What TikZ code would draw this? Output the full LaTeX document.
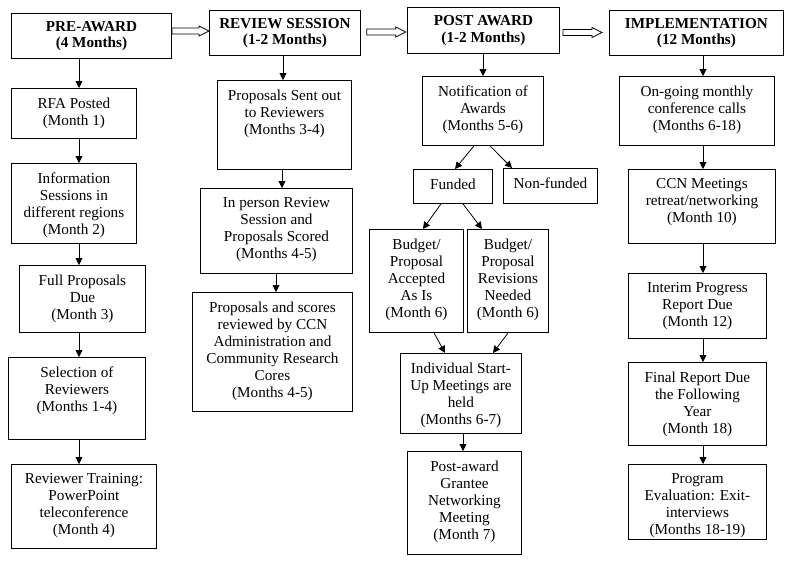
\documentclass[tikz,border=0pt]{standalone}
\usepackage{fontspec}
\setmainfont{Liberation Serif}
\usetikzlibrary{arrows.meta,calc}
\tikzset{
  box/.style={draw, line width=0.9pt, inner sep=0pt, anchor=north west},
  hdr/.style={draw, line width=0.9pt, inner sep=0pt, anchor=north west, align=center,
    font=\bfseries\fontsize{15.2}{16.7}\selectfont},
  txt/.style={font=\fontsize{15.2}{17}\selectfont, align=center, inner sep=0pt, anchor=north},
  arr/.style={-{Triangle[length=7pt,width=7pt]}, line width=0.8pt},
  hollow/.style={line width=0.8pt, line join=miter}
}
\newcommand\bx[6]{%
  \node[box, minimum width=#4pt, minimum height=#5pt] (#1) at (#2,#3) {};
  \node[txt] (#1t) at ([yshift=-9.3pt]#1.north) {#6};}
\newcommand\harrow[2]{%
  \draw[hollow] ($(#1)+(0,-3)$) -- ($(#2)+(-10,-3)$) -- ($(#2)+(-10,-5)$) -- (#2)
    -- ($(#2)+(-10,5)$) -- ($(#2)+(-10,3)$) -- ($(#1)+(0,3)$) -- cycle;}
\begin{document}
\begin{tikzpicture}[x=1pt,y=-1pt]
\useasboundingbox (0,0) rectangle (800,563);
% headers
\node[hdr, minimum width=160pt, minimum height=45pt] (pre) at (11,13) {PRE-AWARD\\(4 Months)};
\node[hdr, minimum width=151pt, minimum height=45pt] (rev) at (209,10) {REVIEW SESSION\\(1-2 Months)};
\node[hdr, minimum width=152pt, minimum height=46pt] (post) at (407,7) {POST AWARD\\(1-2 Months)};
\node[hdr, minimum width=174pt, minimum height=45pt] (impl) at (609,10) {IMPLEMENTATION\\(12 Months)};
% column 1
\bx{rfa}{11}{88}{125}{50}{RFA Posted\\(Month 1)}
\bx{info}{11}{163}{125}{80}{Information\\Sessions in\\different regions\\(Month 2)}
\bx{full}{19}{265}{126}{67}{Full Proposals\\Due\\(Month 3)}
\bx{sel}{8}{357}{137}{82}{Selection of\\Reviewers\\(Months 1-4)}
\bx{train}{11}{464}{145}{84}{Reviewer Training:\\PowerPoint\\teleconference\\(Month 4)}
% column 2
\bx{sent}{217}{80}{134}{89}{Proposals Sent out\\to Reviewers\\(Months 3-4)}
\bx{inper}{200}{188}{152}{85}{In person Review\\Session and\\Proposals Scored\\(Months 4-5)}
\bx{scores}{192}{292}{160}{119}{Proposals and scores\\reviewed by CCN\\Administration and\\Community Research\\Cores\\(Months 4-5)}
% column 3
\bx{notif}{422}{76}{121}{69}{Notification of\\Awards\\(Months 5-6)}
\bx{funded}{413}{169}{79}{34}{Funded}
\bx{nonf}{503}{168}{94}{35}{Non-funded}
\bx{acc}{369}{229}{94}{103}{Budget/\\Proposal\\Accepted\\As Is\\(Month 6)}
\bx{revn}{467}{229}{81}{103}{Budget/\\Proposal\\Revisions\\Needed\\(Month 6)}
\bx{indiv}{400}{353}{121}{80}{Individual Start-\\Up Meetings are\\held\\(Months 6-7)}
\bx{grant}{407}{451}{114}{103}{Post-award\\Grantee\\Networking\\Meeting\\(Month 7)}
% column 4
\bx{ongo}{619}{76}{155}{69}{On-going monthly\\conference calls\\(Months 6-18)}
\bx{ccn}{628}{169}{147}{74}{CCN Meetings\\retreat/networking\\(Month 10)}
\bx{interim}{628}{273}{138}{65}{Interim Progress\\Report Due\\(Month 12)}
\bx{final}{628}{362}{138}{83}{Final Report Due\\the Following\\Year\\(Month 18)}
\bx{prog}{628}{464}{138}{75}{Program\\Evaluation: Exit-\\interviews\\(Months 18-19)}
% hollow arrows
\coordinate (h1s) at (pre.east |- 0,31);
\coordinate (h1e) at (rev.west |- 0,31);
\coordinate (h2s) at (366.7,32);
\coordinate (h2e) at (405.7,32);
\coordinate (h3s) at (563,32.5);
\coordinate (h3e) at (602,32.5);
\harrow{h1s}{h1e}
\harrow{h2s}{h2e}
\harrow{h3s}{h3e}
% column 1 arrows
\draw[arr] (pre.south -| 79,0) -- (rfa.north -| 79,0);
\draw[arr] (rfa.south -| 79,0) -- (info.north -| 79,0);
\draw[arr] (info.south -| 79,0) -- (full.north -| 79,0);
\draw[arr] (full.south -| 79,0) -- (sel.north -| 79,0);
\draw[arr] (sel.south -| 79,0) -- (train.north -| 79,0);
% column 2 arrows
\draw[arr] (rev.south -| 283,0) -- (sent.north -| 283,0);
\draw[arr] (sent.south -| 282,0) -- (inper.north -| 282,0);
\draw[arr] (inper.south -| 276,0) -- (scores.north -| 276,0);
% column 3 arrows
\draw[arr] (post.south -| 483,0) -- (notif.north -| 483,0);
\draw[arr] (notif.south -| 474,0) -- (funded.north -| 455,0);
\draw[arr] (notif.south -| 490,0) -- (nonf.north -| 512,0);
\draw[arr] (funded.south -| 441,0) -- (acc.north -| 423,0);
\draw[arr] (funded.south -| 463,0) -- (revn.north -| 482,0);
\draw[arr] (acc.south -| 434,0) -- (indiv.north -| 445,0);
\draw[arr] (revn.south -| 508,0) -- (indiv.north -| 493,0);
\draw[arr] (indiv.south -| 463,0) -- (grant.north -| 463,0);
% column 4 arrows
\draw[arr] (impl.south -| 703,0) -- (ongo.north -| 703,0);
\draw[arr] (ongo.south -| 703,0) -- (ccn.north -| 703,0);
\draw[arr] (ccn.south -| 703,0) -- (interim.north -| 703,0);
\draw[arr] (interim.south -| 703,0) -- (final.north -| 703,0);
\draw[arr] (final.south -| 703,0) -- (prog.north -| 703,0);
\end{tikzpicture}
\end{document}
